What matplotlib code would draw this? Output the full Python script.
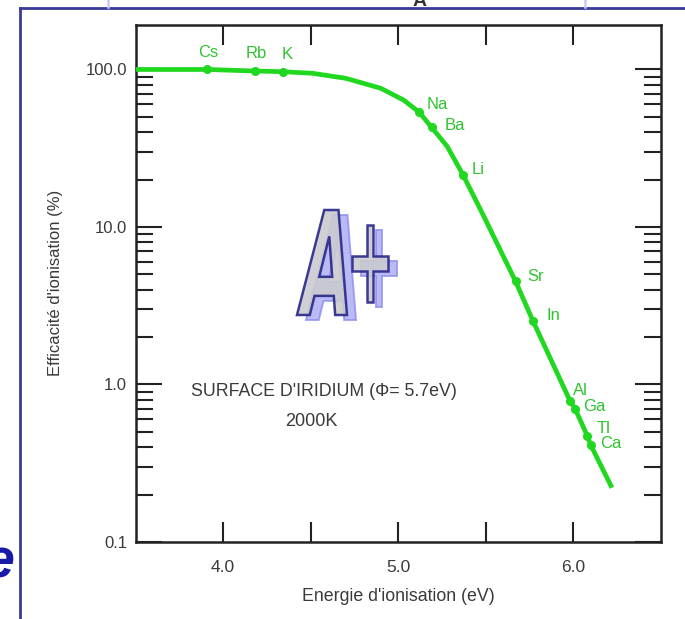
import matplotlib
matplotlib.use("Agg")
import matplotlib.pyplot as plt
from matplotlib.ticker import FixedLocator, FixedFormatter, LogLocator, NullFormatter
from matplotlib.textpath import TextPath
from matplotlib.patches import PathPatch
from matplotlib.font_manager import FontProperties
from matplotlib.transforms import Affine2D, IdentityTransform
from matplotlib.lines import Line2D

plt.rcParams['font.family'] = ['Liberation Sans', 'DejaVu Sans']

# ---- data ----
curve_x = [3.50, 3.91, 4.18, 4.34, 4.51, 4.70, 4.90, 5.03, 5.12, 5.19, 5.28, 5.37,
           5.49, 5.67, 5.77, 5.98, 6.01, 6.08, 6.10, 6.22]
curve_y = [100.0, 100.0, 97.8, 96.8, 94.6, 87.9, 76.0, 64.0, 53.5, 43.0, 32.4, 21.4,
           11.6, 4.51, 2.52, 0.79, 0.70, 0.47, 0.41, 0.221]

elements = ['Cs', 'Rb', 'K', 'Na', 'Ba', 'Li', 'Sr', 'In', 'Al', 'Ga', 'Tl', 'Ca']
elem_x = [3.91, 4.18, 4.34, 5.12, 5.19, 5.37, 5.67, 5.77, 5.98, 6.01, 6.08, 6.10]
elem_y = [100.0, 97.8, 96.8, 53.5, 43.0, 21.4, 4.51, 2.52, 0.79, 0.70, 0.47, 0.41]

x_ticks = [4.0, 4.5, 5.0, 5.5, 6.0]
x_ticklabels = ['4.0', '', '5.0', '', '6.0']
y_ticks = [0.1, 1.0, 10.0, 100.0]
y_ticklabels = ['0.1', '1.0', '10.0', '100.0']

# label placement (pixel offsets, style only)
label_offsets = {'Cs': (1, 17, 'center'), 'Rb': (2, 17, 'center'), 'K': (5, 17, 'center'),
                 'Na': (7, 8, 'left'), 'Ba': (13, 1.5, 'left'), 'Li': (9, 5, 'left'),
                 'Sr': (12, 4.5, 'left'), 'In': (13, 6, 'left'), 'Al': (3, 10, 'left'),
                 'Ga': (8, 2, 'left'), 'Tl': (9.5, 7.5, 'left'), 'Ca': (9, 2, 'left')}

W, H = 685, 619
fig = plt.figure(figsize=(W / 100, H / 100), dpi=100)
fig.patch.set_facecolor('white')

# axes placement (pixels: left 135.5, right 661, top 24.5, bottom 542)
L, R, T, B = 135.5, 661, 24.5, 542
ax = fig.add_axes([L / W, (H - B) / H, (R - L) / W, (B - T) / H])

GREEN = '#1fd81f'
LBL = '#2ec52e'
DARK = '#222222'
TXT = '#3a3a3a'

ax.plot(curve_x, curve_y, color=GREEN, lw=3.4, solid_capstyle='butt', solid_joinstyle='round', zorder=3)
ax.plot(elem_x, elem_y, 'o', color=GREEN, ms=5.5, zorder=4)

for name, x, y in zip(elements, elem_x, elem_y):
    dx, dy, ha = label_offsets[name]
    ax.annotate(name, (x, y), xytext=(dx * 0.72, dy * 0.72), textcoords='offset points',
                ha=ha, va='center', fontsize=12, color=LBL)

ax.set_yscale('log')
ax.set_xlim(3.5, 6.5)
ax.set_ylim(0.1, 193)

ax.xaxis.set_major_locator(FixedLocator(x_ticks))
ax.xaxis.set_major_formatter(FixedFormatter(x_ticklabels))
ax.yaxis.set_major_locator(FixedLocator(y_ticks))
ax.yaxis.set_major_formatter(FixedFormatter(y_ticklabels))
ax.yaxis.set_minor_locator(LogLocator(base=10, subs=[2, 3, 4, 5, 6, 7, 8, 9]))
ax.yaxis.set_minor_formatter(NullFormatter())

ax.tick_params(axis='x', which='major', direction='in', length=14.5, width=1.5, color=DARK,
               top=True, bottom=True, labelsize=12.5, labelcolor=TXT, pad=13)
ax.tick_params(axis='y', which='major', direction='in', length=18.5, width=1.5, color=DARK,
               left=True, right=True, labelsize=12, labelcolor=TXT, pad=6)
ax.tick_params(axis='y', which='minor', direction='in', length=12.5, width=1.5, color=DARK,
               left=True, right=True)

for sp in ax.spines.values():
    sp.set_linewidth(1.8)
    sp.set_color(DARK)

ax.set_xlabel("Energie d'ionisation (eV)", fontsize=12.8, color=TXT, labelpad=9)
ax.set_ylabel("Efficacité d'ionisation (%)", fontsize=12, color=TXT, labelpad=16)

# in-plot text
fig.text(323.5 / W, 1 - 392 / H, "SURFACE D'IRIDIUM (Φ= 5.7eV)", ha='center', va='center',
         fontsize=12.8, color=TXT)
fig.text(311 / W, 1 - 422 / H, "2000K", ha='center', va='center', fontsize=13, color=TXT)

# "A+" watermark
def glyph(s, box, face, edge, lw, alpha, z):
    tp = TextPath((0, 0), s, size=100,
                  prop=FontProperties(family='DejaVu Sans', weight='bold', style='italic'))
    ext = tp.get_extents()
    x0, y0, x1, y1 = box
    sx = (x1 - x0) / ext.width
    sy = (y1 - y0) / ext.height
    tr = Affine2D().translate(-ext.x0, -ext.y0).scale(sx, sy).translate(x0, H - y1)
    p = PathPatch(tr.transform_path(tp), transform=IdentityTransform(), facecolor=face,
                  edgecolor=edge, lw=lw, alpha=alpha, zorder=z)
    fig.add_artist(p)

off = (9, 5)
glyph('A', (297 + off[0], 210 + off[1], 347 + off[0], 315 + off[1]), '#a9a9f2', '#8e8ef0', 1.4, 0.8, 5)
glyph('+', (352 + off[0], 225 + off[1], 388 + off[0], 302 + off[1]), '#a9a9f2', '#8e8ef0', 1.4, 0.8, 5)
glyph('A', (297, 210, 347, 315), '#cacad0', '#27278a', 1.8, 0.9, 6)
glyph('+', (352, 225, 388, 302), '#cacad0', '#27278a', 1.8, 0.9, 6)

# page decorations (blue frame, cut-off letters)
BLUE = '#3a3a98'
fig.add_artist(Line2D([20 / W, 1], [1 - 8 / H, 1 - 8 / H], transform=fig.transFigure, color=BLUE, lw=2.0))
fig.add_artist(Line2D([20 / W, 20 / W], [1 - 8 / H, 0], transform=fig.transFigure, color=BLUE, lw=2.0))
for xx in (108, 585):
    fig.add_artist(Line2D([xx / W, xx / W], [1, 1 - 7 / H], transform=fig.transFigure, color='#c8c8ff', lw=1.8))
fig.text(420 / W, 1 - 6 / H, 'A', ha='center', va='baseline', fontsize=14, fontweight='bold', color='#333333')
fig.text(14 / W, 1 - 577 / H, 'e', ha='right', va='baseline', fontsize=40, fontstyle='italic',
         fontweight='bold', color='#1a1aa8')

fig.savefig('out.png', dpi=100)
